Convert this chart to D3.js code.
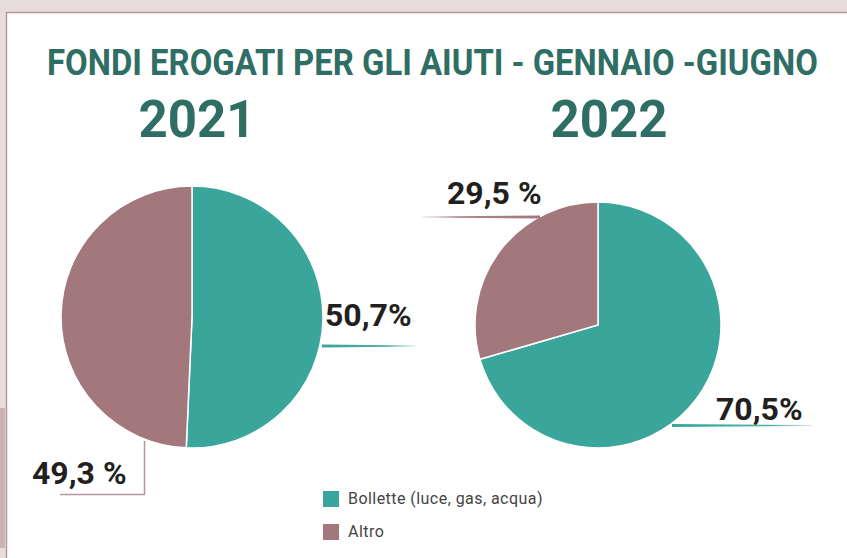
<!DOCTYPE html>
<html>
<head>
<meta charset="utf-8">
<script src="https://cdn.jsdelivr.net/npm/d3@7"></script>
<style>
  body { margin: 0; background: #e8dcdc; }
  svg { display: block; }
</style>
</head>
<body>
<svg width="847" height="558"></svg>
<script>
// data
const categories = ["Bollette (luce, gas, acqua)", "Altro"];
const years = ["2021", "2022"];
const values2021 = [50.7, 49.3];
const values2022 = [70.5, 29.5];
const labels2021 = ["50,7%", "49,3 %"];
const labels2022 = ["70,5%", "29,5 %"];
const title = "FONDI EROGATI PER GLI AIUTI - GENNAIO -GIUGNO";

const colors = ["#3aa69b", "#a3787d"];
const color = d3.scaleOrdinal().domain(categories).range(colors);

const svg = d3.select("svg");

// page frame
svg.append("rect").attr("width", 847).attr("height", 558).attr("fill", "#e8dcdc");
svg.append("rect").attr("x", 0).attr("y", 408).attr("width", 5).attr("height", 140).attr("fill", "#ccb3b6");
svg.append("rect").attr("x", 6).attr("y", 12).attr("width", 841).attr("height", 546)
    .attr("fill", "#fff");
svg.append("path").attr("d", "M6.5,558V12.5H847")
    .attr("fill", "none").attr("stroke", "#b9979c").attr("stroke-width", 1.5);

// title, squeezed horizontally to the reference width
const titleText = svg.append("text")
    .style("font-family", "Roboto").style("font-weight", 700).style("font-size", "37px")
    .attr("fill", "#2f6e64")
    .text(title);
const tw = titleText.node().getComputedTextLength();
titleText.attr("transform", `translate(47,75) scale(${771 / tw},1)`);

// gradient for tapered leader lines
const defs = svg.append("defs");
colors.forEach((c, i) => {
    const gl = defs.append("linearGradient").attr("id", "fadeR" + i);
    gl.append("stop").attr("offset", "0%").attr("stop-color", c).attr("stop-opacity", 1);
    gl.append("stop").attr("offset", "70%").attr("stop-color", c).attr("stop-opacity", 0.9);
    gl.append("stop").attr("offset", "100%").attr("stop-color", c).attr("stop-opacity", 0.2);
    const gr = defs.append("linearGradient").attr("id", "fadeL" + i);
    gr.append("stop").attr("offset", "0%").attr("stop-color", c).attr("stop-opacity", 0.2);
    gr.append("stop").attr("offset", "30%").attr("stop-color", c).attr("stop-opacity", 0.9);
    gr.append("stop").attr("offset", "100%").attr("stop-color", c).attr("stop-opacity", 1);
});

const pie = d3.pie().sort(null).value(d => d);

const charts = [
    {year: years[0], values: values2021, labels: labels2021, cx: 192, cy: 317, r: 131, yearX: 197},
    {year: years[1], values: values2022, labels: labels2022, cx: 598, cy: 325, r: 123, yearX: 609}
];

charts.forEach(c => {
    svg.append("text")
        .attr("x", c.yearX).attr("y", 137)
        .attr("text-anchor", "middle")
        .style("font-family", "Roboto").style("font-weight", 700).style("font-size", "51px")
        .attr("fill", "#2f6e64")
        .text(c.year);

    const arc = d3.arc().innerRadius(0).outerRadius(c.r);
    const g = svg.append("g").attr("transform", `translate(${c.cx},${c.cy})`);
    g.selectAll("path")
        .data(pie(c.values))
        .join("path")
        .attr("d", arc)
        .attr("fill", (d, i) => color(categories[i]))
        .attr("stroke", "#fff")
        .attr("stroke-width", 1.5);
});

// tapered line helper
function taper(x0, x1, y, w0, w1, fill) {
    svg.append("path")
        .attr("d", `M${x0},${y - w0 / 2}L${x1},${y - w1 / 2}L${x1},${y + w1 / 2}L${x0},${y + w0 / 2}Z`)
        .attr("fill", fill);
}

const labelStyle = sel => sel
    .style("font-family", "Roboto").style("font-weight", 700).style("font-size", "32px")
    .attr("fill", "#231f20");

// 2021 labels
const a = charts[0];
svg.append("text").attr("x", a.cx + a.r + 2).attr("y", 326).call(labelStyle).text(a.labels[0]);
taper(a.cx + a.r - 1, a.cx + a.r + 93, 346, 3, 1, "url(#fadeR0)");
svg.append("text").attr("x", 32).attr("y", 484).call(labelStyle).text(a.labels[1]);
svg.append("path")
    .attr("d", `M60,494.5H144.5V${a.cy + 124}`)
    .attr("fill", "none").attr("stroke", "#b8959a").attr("stroke-width", 1.5);

// 2022 labels
const b = charts[1];
svg.append("text").attr("x", 716).attr("y", 420).call(labelStyle).text(b.labels[0]);
taper(672, 812, 425.5, 3, 1, "url(#fadeR0)");
svg.append("text").attr("x", 447).attr("y", 204).call(labelStyle).text(b.labels[1]);
taper(422, 540, 217, 1, 3, "url(#fadeL1)");

// legend
const legend = svg.append("g").attr("transform", "translate(323,491)");
const item = legend.selectAll("g")
    .data(categories)
    .join("g")
    .attr("transform", (d, i) => `translate(0,${i * 33})`);
item.append("rect").attr("width", 16).attr("height", 16).attr("fill", d => color(d));
item.append("text")
    .attr("x", 25).attr("y", 13)
    .style("font-family", "Roboto").style("font-size", "16px")
    .style("letter-spacing", "0.45px")
    .attr("fill", "#444")
    .text(d => d);
</script>
</body>
</html>
